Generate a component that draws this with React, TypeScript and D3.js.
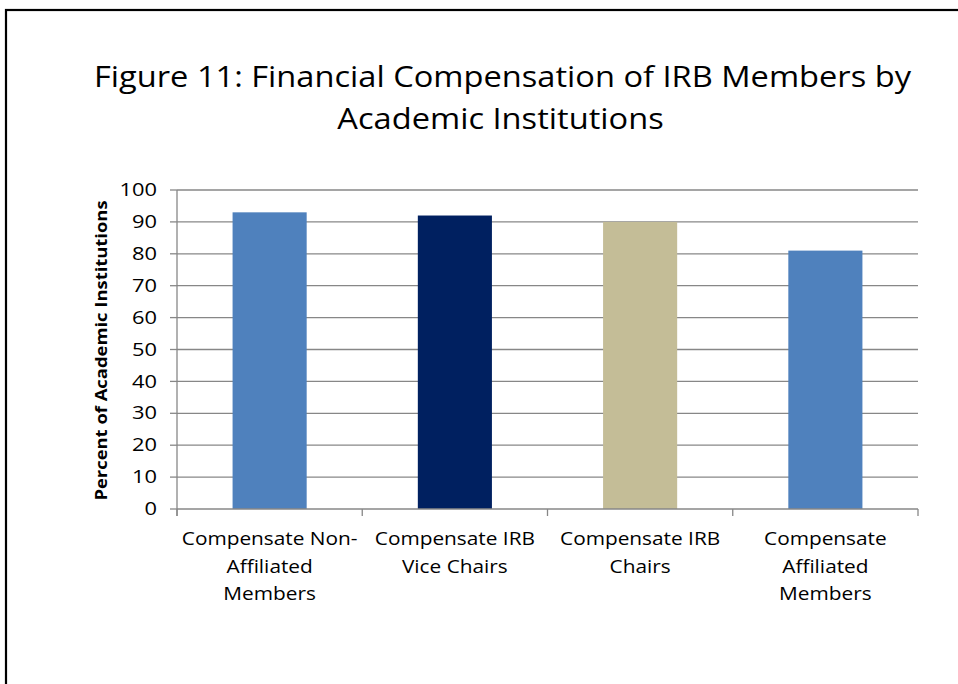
import React from "react";
import * as d3 from "d3";

const categories: string[][] = [
  ["Compensate Non-", "Affiliated", "Members"],
  ["Compensate IRB", "Vice Chairs"],
  ["Compensate IRB", "Chairs"],
  ["Compensate", "Affiliated", "Members"],
];
const values: number[] = [93, 92, 90, 81];
const barColors: string[] = ["#4F81BD", "#002060", "#C4BD97", "#4F81BD"];
const yTicks: number[] = [0, 10, 20, 30, 40, 50, 60, 70, 80, 90, 100];
const titleLines: string[] = [
  "Figure 11: Financial Compensation of IRB Members by",
  "Academic Institutions",
];
const yLabel = "Percent of Academic Institutions";

const W = 958;
const H = 684;
const left = 177;
const right = 918;
const top = 190;
const bottom = 509;
const FONT = "'Open Sans', 'Noto Sans', sans-serif";

function T(props: {
  x: number;
  y: number;
  size: number;
  sx?: number;
  anchor?: string;
  rotate?: number;
  bold?: boolean;
  dy?: string;
  children: React.ReactNode;
}) {
  const { x, y, size, sx = 1.19, anchor = "middle", rotate = 0, bold, dy, children } = props;
  return (
    <text
      transform={`translate(${x},${y}) rotate(${rotate}) scale(${sx},1)`}
      textAnchor={anchor}
      fontFamily={FONT}
      fontSize={size}
      fontWeight={bold ? "bold" : "normal"}
      dy={dy}
      fill="#000"
    >
      {children}
    </text>
  );
}

export default function App() {
  const x = d3
    .scaleBand<number>()
    .domain(d3.range(categories.length))
    .range([left, right])
    .paddingInner(0.6)
    .paddingOuter(0.3);
  const y = d3.scaleLinear().domain([0, 100]).range([bottom, top]);
  const step = (right - left) / categories.length;
  const boundaries = d3.range(categories.length + 1).map((i) => left + i * step);

  return (
    <svg
      width={W}
      height={H}
      style={{ position: "absolute", left: 0, top: 0, background: "#fff" }}
    >
      <rect x={6} y={10} width={W + 20} height={H + 20} fill="#fff" stroke="#000" strokeWidth={2.2} />
      {titleLines.map((t, i) => (
        <T key={i} x={i === 0 ? 502.5 : 500.5} y={87 + i * 42} size={29} sx={1.125}>
          {t}
        </T>
      ))}
      {yTicks.map((t) => (
        <g key={t}>
          {t > 0 && (
            <line x1={left} x2={right} y1={y(t)} y2={y(t)} stroke="#878787" strokeWidth={1.3} />
          )}
          <line x1={170} x2={left} y1={y(t)} y2={y(t)} stroke="#878787" strokeWidth={1.3} />
          <T x={157} y={y(t)} dy="0.35em" anchor="end" size={17.5} sx={1.25}>
            {t}
          </T>
        </g>
      ))}
      {values.map((v, i) => (
        <rect
          key={i}
          x={x(i)}
          y={y(v)}
          width={x.bandwidth()}
          height={y(0) - y(v)}
          fill={barColors[i]}
        />
      ))}
      <line x1={left} x2={left} y1={top} y2={516} stroke="#878787" strokeWidth={1.3} />
      <line x1={left} x2={right} y1={bottom} y2={bottom} stroke="#878787" strokeWidth={1.3} />
      {boundaries.map((b, i) => (
        <line key={i} x1={b} x2={b} y1={bottom} y2={516} stroke="#878787" strokeWidth={1.3} />
      ))}
      {categories.map((lines, i) =>
        lines.map((l, j) => (
          <T
            key={i + "-" + j}
            x={(x(i) as number) + x.bandwidth() / 2}
            y={545 + j * 27.5}
            size={17.5}
          >
            {l}
          </T>
        ))
      )}
      <T x={107} y={(top + bottom) / 2 + 1} rotate={-90} size={16} bold sx={1.15}>
        {yLabel}
      </T>
    </svg>
  );
}
